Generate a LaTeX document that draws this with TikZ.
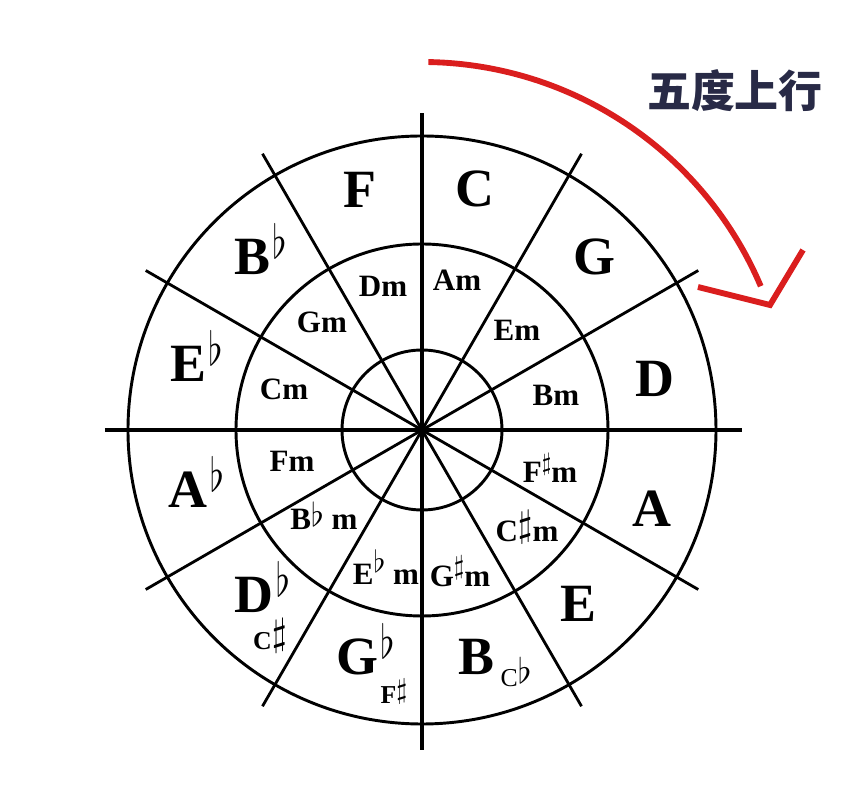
\documentclass[tikz,border=0pt]{standalone}
\usepackage{fix-cm}
\usepackage{graphicx}
\usepackage{fontspec}
\setmainfont{Liberation Serif}
\newfontfamily\cjk{Noto Sans CJK SC}
\usepackage{tikz}
\definecolor{arrowred}{RGB}{218,30,30}
\definecolor{titlenavy}{RGB}{40,42,70}
\newcommand{\majorfont}{\fontsize{46}{46}\selectfont\bfseries}
\newcommand{\minorfont}{\fontsize{26.5}{26.5}\selectfont\bfseries}
\newcommand{\enhfont}{\fontsize{22}{22}\selectfont\bfseries}
% accidentals: #1 raise, #2 scale, #3 symbol
\newcommand{\acc}[3]{\raisebox{#1}{\scalebox{#2}{\fontsize{10}{10}\selectfont$#3$}}}
\newcommand{\supflat}{\rlap{\hspace{2pt}\raisebox{14pt}{\scalebox{3.1}[4]{\fontsize{10}{10}\selectfont$\flat$}}}}
\tikzstyle{every node}=[inner sep=0pt,anchor=base]
\tikzstyle{major}=[font=\majorfont]
\tikzstyle{minor}=[font=\minorfont]
\tikzstyle{enh}=[font=\enhfont]
\tikzstyle{ring}=[line width=2.5pt]
\tikzstyle{spoke}=[line width=2.4pt]
\tikzstyle{axis}=[line width=3pt]

\begin{document}
\begin{tikzpicture}[x=0.03cm,y=0.03cm]
  \useasboundingbox (-422,-361) rectangle (435,430);
  \coordinate (O) at (0,0);
  % rings
  \draw[ring] (O) circle (294);
  \draw[ring] (O) circle (186);
  \draw[ring] (O) circle (80);
  % spokes
  \draw[axis] (-317,0) -- (320,0);
  \draw[axis] (0,-320) -- (0,317);
  \draw[spoke] (30:319) -- (210:319);
  \draw[spoke] (60:319) -- (240:319);
  \draw[spoke] (120:319) -- (300:319);
  \draw[spoke] (150:319) -- (330:319);
  % major keys
  \node[major] (C) at (53,223) {C};
  \node[major] (G) at (172,155) {G};
  \node[major] (D) at (233,33) {D};
  \node[major] (A) at (230,-97) {A};
  \node[major] (E) at (156,-192) {E};
  \node[major] (B) at (54,-245) {B};
  \node[major] (Gb) at (-65,-245) {G\supflat};
  \node[major] (Db) at (-168,-183) {D\supflat};
  \node[major] (Ab) at (-234,-78) {A\supflat};
  \node[major] (Eb) at (-234,48) {E\supflat};
  \node[major] (Bb) at (-170,155) {B\supflat};
  \node[major] (F) at (-62,222) {F};
  % enharmonic names
  \node[enh,font=\fontsize{22}{22}\selectfont] (Cb) at (94,-257) {C\acc{3pt}{3}{\flat}};
  \node[enh] (Fs) at (-28,-274) {F\acc{4.5pt}{2.4}{\sharp}};
  \node[enh] (Cs) at (-152,-220) {C\acc{4pt}{3.3}{\sharp}};
  % minor keys
  \node[minor] (Am) at (35,139) {Am};
  \node[minor] (Em) at (95,89) {Em};
  \node[minor] (Bm) at (134,24) {Bm};
  \node[minor] (Fsm) at (128,-53) {F\acc{11pt}{2.1}{\sharp}m};
  \node[minor] (Csm) at (105,-112) {C\acc{5pt}{3.2}{\sharp}m};
  \node[minor] (Gsm) at (38,-157) {G\acc{11pt}{2.3}{\sharp}m};
  \node[minor] (Ebm) at (-36,-155) {E\acc{11pt}{2.6}{\flat}\ m};
  \node[minor] (Bbm) at (-98,-100) {B\acc{3pt}{2.8}{\flat}\ m};
  \node[minor] (Fm) at (-130,-42) {Fm};
  \node[minor] (Cm) at (-138,30) {Cm};
  \node[minor] (Gm) at (-100,97) {Gm};
  \node[minor] (Dm) at (-39,133) {Dm};
  % circle of fifths direction
  \draw[arrowred,line width=5pt] (89:368) arc[start angle=89,end angle=23,radius=368];
  \coordinate (hl) at (276,143);
  \coordinate (ht) at (348,125);
  \coordinate (hr) at (381,180);
  \draw[arrowred,line width=5pt] (hl) -- (ht) -- (hr);
  \node[anchor=center,text=titlenavy,font=\cjk\bfseries\fontsize{37.5}{37.5}\selectfont] (title) at (313,339) {五度上行};
\end{tikzpicture}
\end{document}
